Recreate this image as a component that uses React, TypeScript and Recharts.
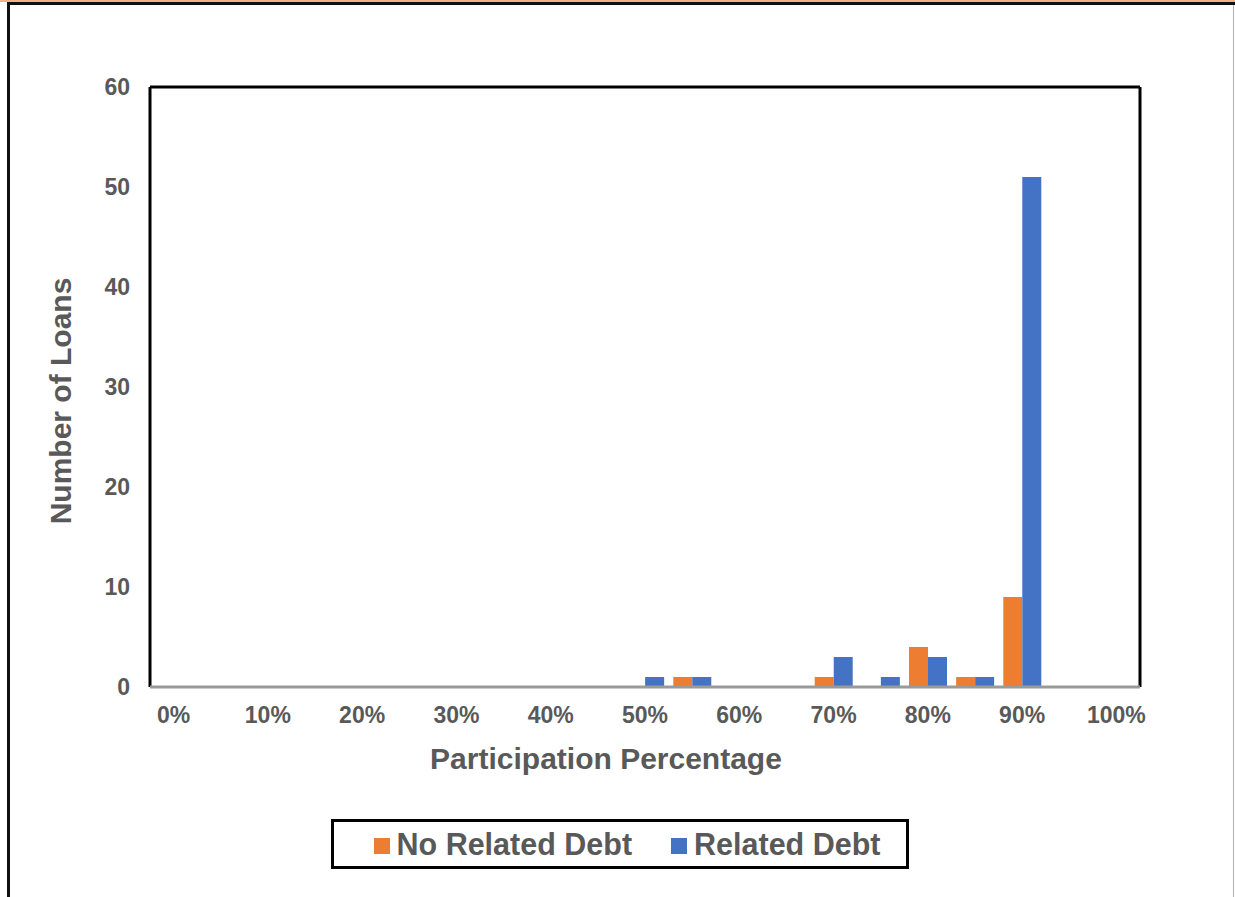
import React from 'react';
import { BarChart, Bar, XAxis, YAxis } from 'recharts';

// Participation bins, 5% steps from 0% to 100%
const bins = [
  '0%', '5%', '10%', '15%', '20%', '25%', '30%', '35%', '40%', '45%', '50%',
  '55%', '60%', '65%', '70%', '75%', '80%', '85%', '90%', '95%', '100%',
];

// Number of loans per bin
const noRelatedDebt = [0, 0, 0, 0, 0, 0, 0, 0, 0, 0, 0, 1, 0, 0, 1, 0, 4, 1, 9, 0, 0];
const relatedDebt = [0, 0, 0, 0, 0, 0, 0, 0, 0, 0, 1, 1, 0, 0, 3, 1, 3, 1, 51, 0, 0];

const yTicks = [0, 10, 20, 30, 40, 50, 60];

const seriesList = [
  { key: 'noRelated', name: 'No Related Debt', color: '#ED7D31' },
  { key: 'related', name: 'Related Debt', color: '#4472C4' },
];

const data = bins.map((bin, i) => ({
  bin,
  noRelated: noRelatedDebt[i],
  related: relatedDebt[i],
}));

const FONT = '"Liberation Sans", Arial, sans-serif';
const TEXT = '#595959';

const tickStyle = { fontFamily: FONT, fontSize: 23, fontWeight: 700, fill: TEXT };

const XTitle = (props: any) => {
  const vb = props.viewBox || {};
  return (
    <text
      x={vb.x + vb.width / 2 - 39}
      y={769}
      textAnchor="middle"
      fontFamily={FONT}
      fontSize={30}
      fontWeight={700}
      fill={TEXT}
    >
      Participation Percentage
    </text>
  );
};

const YTitle = (props: any) => {
  const vb = props.viewBox || {};
  const cy = vb.y + vb.height / 2 + 14;
  return (
    <text
      x={71}
      y={cy}
      transform={`rotate(-90, 71, ${cy})`}
      textAnchor="middle"
      fontFamily={FONT}
      fontSize={30}
      fontWeight={700}
      fill={TEXT}
    >
      Number of Loans
    </text>
  );
};

const ChartLegend = () => (
  <div
    style={{
      position: 'absolute',
      left: 331,
      top: 819,
      width: 578,
      height: 50,
      boxSizing: 'border-box',
      border: '3px solid #000',
      background: '#fff',
      display: 'flex',
      alignItems: 'center',
      justifyContent: 'center',
      gap: 39,
      fontFamily: FONT,
      fontSize: 30.5,
      fontWeight: 700,
      color: TEXT,
      paddingLeft: 14,
    }}
  >
    {seriesList.map((s) => (
      <div key={s.key} style={{ display: 'flex', alignItems: 'center' }}>
        <span
          style={{
            display: 'inline-block',
            width: 16,
            height: 16,
            background: s.color,
            marginRight: 7,
            marginTop: 4,
          }}
        />
        <span style={{ lineHeight: '30px' }}>{s.name}</span>
      </div>
    ))}
  </div>
);

export default function App() {
  return (
    <div
      style={{
        position: 'absolute',
        left: 0,
        top: 0,
        width: 1235,
        height: 897,
        background: '#fff',
        overflow: 'hidden',
      }}
    >
      {/* outer frame */}
      <div style={{ position: 'absolute', left: 0, top: 0, width: 1235, height: 2, background: '#F4B183' }} />
      <div style={{ position: 'absolute', left: 7, top: 2, width: 1228, height: 3, background: '#111' }} />
      <div style={{ position: 'absolute', left: 7, top: 2, width: 3, height: 895, background: '#111' }} />
      <div style={{ position: 'absolute', left: 1233, top: 5, width: 1, height: 892, background: '#b0b0b0' }} />

      <div style={{ position: 'absolute', left: 0, top: 0 }}>
        <BarChart
          width={1235}
          height={897}
          data={data}
          margin={{ top: 86, right: 94, bottom: 150, left: 90 }}
          barCategoryGap="10%"
          barGap={0}
        >
          <XAxis
            xAxisId="top"
            orientation="top"
            dataKey="bin"
            height={1}
            tick={false}
            tickLine={false}
            axisLine={{ stroke: '#000', strokeWidth: 3 }}
          />
          <YAxis
            yAxisId="right"
            orientation="right"
            width={1}
            domain={[0, 60]}
            tick={false}
            tickLine={false}
            axisLine={{ stroke: '#000', strokeWidth: 3 }}
          />
          <YAxis
            width={60}
            domain={[0, 60]}
            ticks={yTicks}
            interval={0}
            tickLine={false}
            tickSize={0}
            tickMargin={20}
            tick={tickStyle}
            axisLine={{ stroke: '#000', strokeWidth: 3 }}
            label={<YTitle />}
          />
          <XAxis
            dataKey="bin"
            height={60}
            interval={1}
            tickLine={false}
            tickSize={0}
            tickMargin={20}
            tick={tickStyle}
            axisLine={{ stroke: '#9a9a9a', strokeWidth: 3 }}
            label={<XTitle />}
          />
          {seriesList.map((s) => (
            <Bar
              key={s.key}
              dataKey={s.key}
              name={s.name}
              fill={s.color}
              isAnimationActive={false}
            />
          ))}
        </BarChart>
      </div>

      <ChartLegend />
    </div>
  );
}
